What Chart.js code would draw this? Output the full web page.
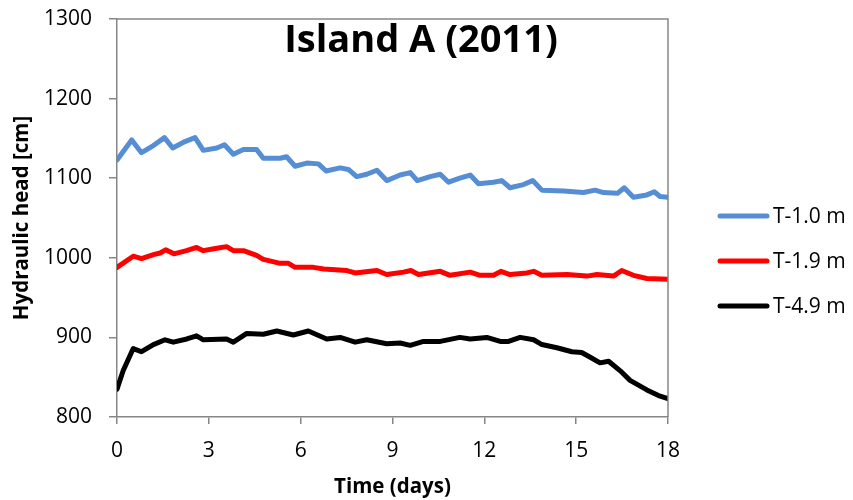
<!DOCTYPE html>
<html>
<head>
<meta charset="utf-8">
<script src="https://cdn.jsdelivr.net/npm/chart.js@4/dist/chart.umd.min.js"></script>
<style>
  html, body { margin: 0; padding: 0; background: #fff; }
  #wrap { width: 853px; height: 500px; }
</style>
</head>
<body>
<div id="wrap"><canvas id="c" width="853" height="500"></canvas></div>
<script>
// Hydraulic head at three depths, Island A, 2011
const chartTitle = 'Island A (2011)';
const seriesNames = ['T-1.0 m', 'T-1.9 m', 'T-4.9 m'];
const seriesColors = ['#558ED5', '#FF0000', '#000000'];

const daysT10 = [0, 0.48, 0.8, 1.19, 1.55, 1.82, 2.22, 2.55, 2.82, 3.26, 3.51, 3.8, 4.13, 4.56, 4.78, 5.33, 5.54, 5.82, 6.2, 6.58, 6.83, 7.29, 7.56, 7.83, 8.16, 8.49, 8.81, 9.25, 9.58, 9.81, 10.23, 10.56, 10.83, 11.2, 11.54, 11.81, 12.3, 12.57, 12.84, 13.28, 13.58, 13.88, 14.59, 15.24, 15.62, 15.89, 16.35, 16.57, 16.87, 17.31, 17.55, 17.74, 18.0];
const headT10 = [1123, 1148, 1132, 1141, 1151, 1138, 1146, 1151, 1135, 1138, 1142, 1130, 1136, 1136, 1125, 1125, 1127, 1115, 1119, 1118, 1109, 1113, 1111, 1102, 1105, 1110, 1097, 1104, 1107, 1097, 1102, 1105, 1095, 1100, 1104, 1093, 1095, 1097, 1088, 1092, 1097, 1085, 1084, 1082, 1085, 1082, 1081, 1088, 1076, 1079, 1083, 1077, 1076];

const daysT19 = [0, 0.53, 0.8, 1.19, 1.41, 1.59, 1.86, 2.27, 2.6, 2.82, 3.26, 3.58, 3.8, 4.13, 4.56, 4.78, 5.33, 5.6, 5.82, 6.42, 6.75, 7.51, 7.78, 8.49, 8.81, 9.36, 9.6, 9.85, 10.56, 10.88, 11.54, 11.86, 12.3, 12.54, 12.84, 13.39, 13.61, 13.88, 14.7, 15.35, 15.68, 16.22, 16.49, 16.87, 17.31, 18.0];
const headT19 = [988, 1002, 999, 1004, 1006, 1010, 1005, 1009, 1013, 1009, 1012, 1014, 1009, 1009, 1003, 998, 993, 993, 988, 988, 986, 984, 981, 984, 979, 982, 984, 979, 983, 978, 982, 978, 978, 983, 979, 981, 983, 978, 979, 977, 979, 977, 984, 978, 974, 973];

const daysT49 = [0, 0.2, 0.53, 0.8, 1.19, 1.57, 1.84, 2.28, 2.6, 2.82, 3.58, 3.8, 4.24, 4.78, 5.22, 5.76, 6.25, 6.85, 7.29, 7.78, 8.16, 8.81, 9.25, 9.58, 10.01, 10.56, 11.2, 11.54, 12.08, 12.52, 12.79, 13.17, 13.61, 13.88, 14.37, 14.86, 15.18, 15.46, 15.78, 16.06, 16.44, 16.76, 17.31, 17.69, 18.0];
const headT49 = [835, 858, 886, 882, 891, 897, 894, 898, 902, 897, 898, 894, 905, 904, 908, 903, 908, 898, 900, 894, 897, 892, 893, 890, 895, 895, 900, 898, 900, 895, 895, 900, 897, 891, 887, 882, 881, 875, 868, 870, 858, 846, 834, 827, 823];

const xTicks = [0, 3, 6, 9, 12, 15, 18];
const yTicks = [800, 900, 1000, 1100, 1200, 1300];

const FONT = "'Open Sans', 'DejaVu Sans', sans-serif";
const AXIS_GRAY = '#868686';

function toPoints(days, heads) {
  return days.map((d, i) => ({ x: d, y: heads[i] }));
}

// Frame on the top and right of the plot area, title inside it, legend on the right
const decorations = {
  id: 'decorations',
  afterDatasetsDraw(chart) {
    const { ctx, chartArea: a } = chart;
    ctx.save();
    ctx.strokeStyle = AXIS_GRAY;
    ctx.lineWidth = 1.5;
    ctx.beginPath();
    ctx.moveTo(a.left, a.top);
    ctx.lineTo(a.right, a.top);
    ctx.lineTo(a.right, a.bottom);
    ctx.stroke();

    ctx.fillStyle = '#000';
    ctx.font = 'bold 38px ' + FONT;
    ctx.textAlign = 'center';
    ctx.textBaseline = 'alphabetic';
    ctx.fillText(chartTitle, 421, 52);

    ctx.font = '21px ' + FONT;
    ctx.textAlign = 'left';
    ctx.textBaseline = 'middle';
    chart.data.datasets.forEach((ds, i) => {
      const y = 216 + i * 45;
      ctx.strokeStyle = ds.borderColor;
      ctx.lineWidth = 5;
      ctx.lineCap = 'round';
      ctx.beginPath();
      ctx.moveTo(720, y);
      ctx.lineTo(767, y);
      ctx.stroke();
      ctx.fillStyle = '#000';
      ctx.fillText(ds.label, 773, y + 1);
    });
    ctx.restore();
  }
};

const datasets = [
  [daysT10, headT10], [daysT19, headT19], [daysT49, headT49]
].map(([d, h], i) => ({
  label: seriesNames[i],
  data: toPoints(d, h),
  borderColor: seriesColors[i],
  backgroundColor: seriesColors[i],
  borderWidth: 5,
  pointRadius: 0,
  tension: 0,
  borderJoinStyle: 'round',
  borderCapStyle: 'round'
}));

new Chart(document.getElementById('c'), {
  type: 'line',
  data: { datasets },
  plugins: [decorations],
  options: {
    responsive: false,
    animation: false,
    devicePixelRatio: 1,
    layout: { padding: { left: 0, right: 185, top: 19, bottom: 0 } },
    plugins: {
      legend: { display: false },
      title: { display: false },
      tooltip: { enabled: false }
    },
    scales: {
      x: {
        type: 'linear',
        min: 0, max: 18,
        afterBuildTicks(s) { s.ticks = xTicks.map(v => ({ value: v })); },
        afterFit(s) { s.height = 83; s.paddingLeft = 0; s.paddingRight = 0; },
        grid: { drawOnChartArea: false, drawTicks: true, tickLength: 7, color: AXIS_GRAY, lineWidth: 1.5 },
        border: { color: AXIS_GRAY, width: 1.5 },
        ticks: { color: '#000', font: { family: FONT, size: 21 }, padding: 14, maxRotation: 0,
                 callback: v => String(v) },
        title: { display: true, text: 'Time (days)', color: '#000', font: { family: FONT, size: 20.5, weight: 'bold' }, padding: { top: 16, bottom: 1 } }
      },
      y: {
        min: 800, max: 1300,
        afterBuildTicks(s) { s.ticks = yTicks.map(v => ({ value: v })); },
        afterFit(s) { s.width = 117; s.paddingTop = 0; s.paddingBottom = 0; },
        grid: { drawOnChartArea: false, drawTicks: true, tickLength: 8, color: AXIS_GRAY, lineWidth: 1.5 },
        border: { color: AXIS_GRAY, width: 1.5 },
        ticks: { color: '#000', font: { family: FONT, size: 21 }, padding: 17,
                 callback: v => String(v) },
        title: { display: true, text: 'Hydraulic head [cm]', color: '#000', font: { family: FONT, size: 20.5, weight: 'bold' }, padding: { top: 10, bottom: 10 } }
      }
    }
  }
});
</script>
</body>
</html>
